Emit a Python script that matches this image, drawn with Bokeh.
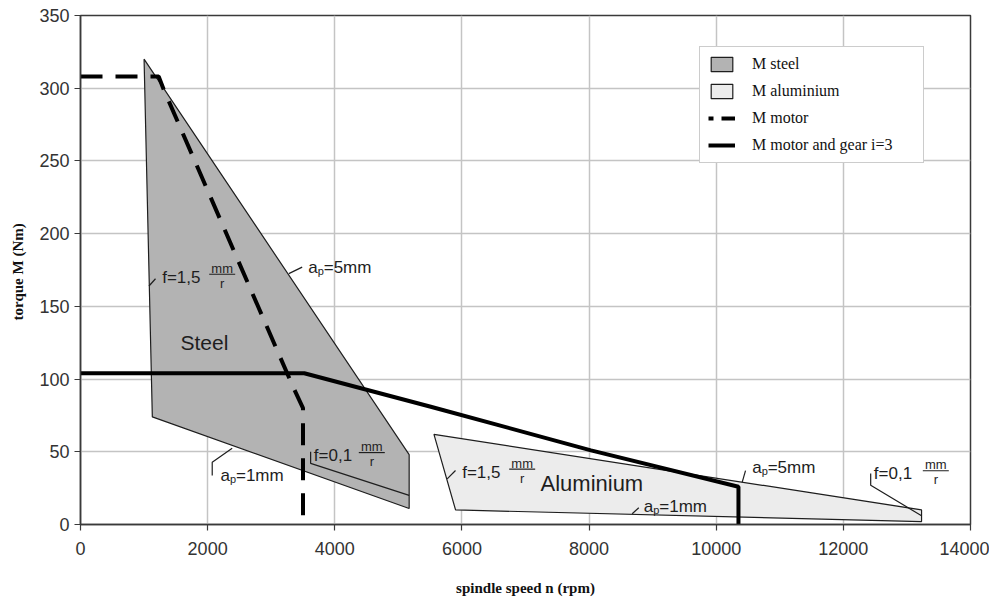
from bokeh.plotting import figure
from bokeh.models import Legend, LegendItem, FixedTicker, Range1d
from bokeh.core.properties import value
from bokeh.embed import file_html
from bokeh.resources import INLINE

# ---------------- data (spindle speed n in rpm, torque M in Nm) ----------------
steel_n = [1000, 5170, 5170, 1130]
steel_M = [320, 48, 11, 74]
alu_n = [5560, 13230, 13230, 5900]
alu_M = [62, 10, 2, 10]
motor_n = [0, 1230, 1310, 3350, 3500, 3500]
motor_M = [308, 308, 299, 94, 80, 0]
gear_n = [0, 3520, 5510, 8030, 10350, 10350]
gear_M = [104, 104, 81, 51, 26, 0]
steel_f01_n = [3620, 3620, 5170]
steel_f01_M = [50, 42, 20]
alu_f01_n = [12430, 12430, 13230]
alu_f01_M = [35, 27, 6]

x_ticks = [0, 2000, 4000, 6000, 8000, 10000, 12000, 14000]
y_ticks = [0, 50, 100, 150, 200, 250, 300, 350]
legend_labels = ["M steel", "M aluminium", "M motor", "M motor and gear i=3"]

X_MAX, Y_MAX = 14000, 350
W, H = 989, 600
BL, BR, BT, BB = 80, 19, 15, 76
SX = (W - BL - BR) / X_MAX   # px per rpm
SY = (H - BT - BB) / Y_MAX   # px per Nm

SANS = "Liberation Sans"
SERIF = "Liberation Serif"
INK = "#1e1e1e"
NAN = float("nan")

p = figure(width=W, height=H, x_range=Range1d(0, X_MAX), y_range=Range1d(0, Y_MAX),
           output_backend="svg", toolbar_location=None,
           min_border_left=BL, min_border_right=BR, min_border_top=BT, min_border_bottom=BB)
p.background_fill_color = "white"
p.border_fill_color = "white"
p.outline_line_color = "#3a3a3a"
p.outline_line_width = 1.5

for ax in (p.xaxis[0], p.yaxis[0]):
    ax.major_label_text_font = SANS
    ax.major_label_text_font_size = "18px"
    ax.major_label_text_color = "#333333"
    ax.axis_line_color = "#3a3a3a"
    ax.axis_line_width = 1.5
    ax.major_tick_line_color = "#3a3a3a"
    ax.major_tick_line_width = 1.2
    ax.major_tick_out = 6
    ax.major_tick_in = 0
    ax.minor_tick_line_color = None
    ax.axis_label_text_font = SERIF
    ax.axis_label_text_font_style = "bold"
    ax.axis_label_text_font_size = "15px"
    ax.axis_label_text_color = "#111111"

p.xaxis.ticker = FixedTicker(ticks=x_ticks)
p.yaxis.ticker = FixedTicker(ticks=y_ticks)
p.xaxis.axis_label = "spindle speed n (rpm)"
p.yaxis.axis_label = "torque  M (Nm)"
p.xaxis.major_label_standoff = 11
p.xaxis.axis_label_standoff = 22
p.yaxis.major_label_standoff = 5
p.yaxis.axis_label_standoff = 10

p.xgrid.ticker = FixedTicker(ticks=x_ticks)
p.ygrid.ticker = FixedTicker(ticks=y_ticks)
for g in (p.xgrid[0], p.ygrid[0]):
    g.grid_line_color = "#c4c4c4"
    g.grid_line_width = 1.5

# ---------------- regions and curves ----------------
r_steel = p.patch(steel_n, steel_M, fill_color="#b3b3b3", line_color=INK, line_width=1.2)
r_alu = p.patch(alu_n, alu_M, fill_color="#ececec", line_color=INK, line_width=1.2)
p.line(steel_f01_n, steel_f01_M, line_color=INK, line_width=1.2)
p.line(alu_f01_n, alu_f01_M, line_color=INK, line_width=1.2)

# ---------------- annotations ----------------
leaders_x = [[1077, 1180], [3277, 3487], [2072, 2072, 2386], [5768, 5899], [8678, 8782], [10409, 10461]]
leaders_y = [[164, 169], [172.5, 177], [33.7, 42.8, 52.5], [31.4, 37.1], [7.4, 11.5], [29.1, 37.1]]
p.multi_line(leaders_x, leaders_y, line_color=INK, line_width=1.2)

r_motor = p.line(motor_n, motor_M, line_color="black", line_width=4, line_dash="22 13")
r_gear = p.line(gear_n, gear_M, line_color="black", line_width=4)

# legend-only keys (not drawn in the plot), styled like the reference key
leg_motor = p.line([NAN, NAN], [NAN, NAN], line_color="black", line_width=4, line_dash="5 8 40")
leg_gear = p.line([NAN, NAN], [NAN, NAN], line_color="black", line_width=4)

def txt(x, y, s, size, dx=0, dy=0, align="left"):
    p.text([x], [y], text=[s], text_font=value(SANS), text_font_size=size,
           text_color=INK, text_align=align, text_baseline="middle",
           x_offset=dx, y_offset=dy)

def frac_label(x, y, main, dx=60):
    txt(x, y, main, "17px")
    txt(x, y, "mm", "13px", dx=dx, dy=-9, align="center")
    txt(x, y, "r", "13px", dx=dx, dy=6, align="center")
    yb = y + 3 / SY
    p.segment([x + (dx - 13) / SX], [yb], [x + (dx + 13) / SX], [yb], line_color=INK, line_width=1.2)

def ap_label(x, y, rest):
    txt(x, y, "a", "17px")
    txt(x, y, "p", "11px", dx=9.5, dy=4)
    txt(x, y, rest, "17px", dx=15.5)

frac_label(1285, 170, "f=1,5")
frac_label(3670, 47.4, "f=0,1", dx=58)
frac_label(6004, 36, "f=1,5")
frac_label(12479, 34.9, "f=0,1", dx=62)
ap_label(3582, 176.9, "=5mm")
ap_label(2202, 33.7, "=1mm")
ap_label(8861, 12.4, "=1mm")
ap_label(10566, 39.4, "=5mm")
txt(1573, 125.4, "Steel", "21px")
txt(7236, 28, "Aluminium", "22px")

# ---------------- legend ----------------
legend = Legend(items=[LegendItem(label=legend_labels[0], renderers=[r_steel]),
                       LegendItem(label=legend_labels[1], renderers=[r_alu]),
                       LegendItem(label=legend_labels[2], renderers=[leg_motor]),
                       LegendItem(label=legend_labels[3], renderers=[leg_gear])],
                location=(619, 361))
legend.label_text_font = SERIF
legend.label_text_font_size = "16px"
legend.label_text_color = "#111111"
legend.glyph_width = 27
legend.glyph_height = 18
legend.label_height = 18
legend.label_standoff = 17
legend.label_width = 163
legend.spacing = 9
legend.padding = 8
legend.margin = 0
legend.border_line_color = "#9a9a9a"
legend.border_line_width = 1
legend.background_fill_color = "white"
legend.background_fill_alpha = 1
p.add_layout(legend)

open("out.html", "w").write(file_html(p, INLINE))
